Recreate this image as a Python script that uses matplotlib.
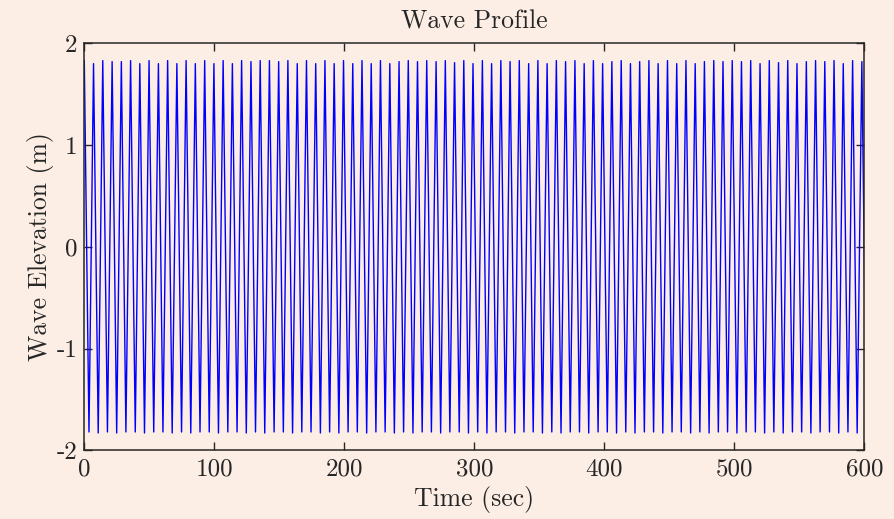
import matplotlib
matplotlib.use("Agg")
import matplotlib.pyplot as plt
import numpy as np

# Crest and trough times (s) and elevations (m)
crest_times = [0.0, 7.1, 14.2, 21.4, 28.5, 35.6, 42.7, 49.8, 57.0, 64.1,
               71.2, 78.3, 85.4, 92.6, 99.7, 106.8, 113.9, 121.0, 128.2, 135.3,
               142.4, 149.5, 156.6, 163.8, 170.9, 178.0, 185.1, 192.2, 199.4, 206.5,
               213.6, 220.7, 227.8, 235.0, 242.1, 249.2, 256.3, 263.4, 270.6, 277.7,
               284.8, 291.9, 299.0, 306.2, 313.3, 320.4, 327.5, 334.6, 341.8, 348.9,
               356.0, 363.1, 370.2, 377.4, 384.5, 391.6, 398.7, 405.8, 413.0, 420.1,
               427.2, 434.3, 441.4, 448.6, 455.7, 462.8, 469.9, 477.0, 484.2, 491.3,
               498.4, 505.5, 512.6, 519.8, 526.9, 534.0, 541.1, 548.2, 555.4, 562.5,
               569.6, 576.7, 583.8, 591.0, 598.1]
crest_elev = [1.83, 1.80, 1.83, 1.82, 1.82, 1.83, 1.80, 1.83, 1.80, 1.83,
              1.80, 1.83, 1.80, 1.83, 1.80, 1.83, 1.80, 1.83, 1.82, 1.83,
              1.83, 1.82, 1.83, 1.80, 1.83, 1.80, 1.83, 1.80, 1.83, 1.80,
              1.83, 1.80, 1.83, 1.80, 1.82, 1.83, 1.82, 1.83, 1.82, 1.83,
              1.81, 1.83, 1.80, 1.83, 1.80, 1.83, 1.82, 1.83, 1.80, 1.83,
              1.80, 1.83, 1.82, 1.83, 1.80, 1.83, 1.80, 1.82, 1.83, 1.80,
              1.82, 1.83, 1.80, 1.83, 1.80, 1.83, 1.80, 1.82, 1.83, 1.82,
              1.83, 1.82, 1.83, 1.80, 1.83, 1.81, 1.83, 1.80, 1.82, 1.83,
              1.82, 1.83, 1.80, 1.83, 1.82]
trough_times = [3.6, 10.7, 17.8, 24.9, 32.0, 39.2, 46.3, 53.4, 60.5, 67.6,
                74.8, 81.9, 89.0, 96.1, 103.2, 110.4, 117.5, 124.6, 131.7, 138.8,
                146.0, 153.1, 160.2, 167.3, 174.4, 181.6, 188.7, 195.8, 202.9, 210.0,
                217.2, 224.3, 231.4, 238.5, 245.6, 252.8, 259.9, 267.0, 274.1, 281.2,
                288.4, 295.5, 302.6, 309.7, 316.8, 324.0, 331.1, 338.2, 345.3, 352.4,
                359.6, 366.7, 373.8, 380.9, 388.0, 395.2, 402.3, 409.4, 416.5, 423.6,
                430.8, 437.9, 445.0, 452.1, 459.2, 466.4, 473.5, 480.6, 487.7, 494.8,
                502.0, 509.1, 516.2, 523.3, 530.4, 537.6, 544.7, 551.8, 558.9, 566.0,
                573.2, 580.3, 587.4, 594.5, 601.6]
trough_elev = [-1.82, -1.83, -1.82, -1.83, -1.82, -1.82, -1.83, -1.82, -1.82, -1.83,
               -1.82, -1.83, -1.82, -1.82, -1.83, -1.82, -1.82, -1.83, -1.82, -1.83,
               -1.82, -1.82, -1.83, -1.82, -1.82, -1.83, -1.82, -1.83, -1.82, -1.82,
               -1.83, -1.82, -1.82, -1.83, -1.82, -1.83, -1.82, -1.82, -1.83, -1.82,
               -1.82, -1.83, -1.82, -1.83, -1.82, -1.82, -1.83, -1.82, -1.82, -1.83,
               -1.82, -1.83, -1.82, -1.82, -1.83, -1.82, -1.82, -1.83, -1.82, -1.83,
               -1.82, -1.82, -1.83, -1.82, -1.82, -1.83, -1.82, -1.83, -1.82, -1.82,
               -1.83, -1.82, -1.82, -1.83, -1.82, -1.83, -1.82, -1.82, -1.83, -1.82,
               -1.82, -1.83, -1.82, -1.83, -1.82]

x_ticks = [0, 100, 200, 300, 400, 500, 600]
x_tick_labels = ["0", "100", "200", "300", "400", "500", "600"]
y_ticks = [-2, -1, 0, 1, 2]
y_tick_labels = ["-2", "-1", "0", "1", "2"]

# interleave crests and troughs into one time series
t = np.empty(len(crest_times) + len(trough_times))
eta = np.empty_like(t)
t[0::2] = crest_times
t[1::2] = trough_times
eta[0::2] = crest_elev
eta[1::2] = trough_elev

plt.rcParams["font.family"] = ["cmr10", "DejaVu Serif"]
plt.rcParams["mathtext.fontset"] = "cm"
plt.rcParams["axes.unicode_minus"] = False

bg = "#FCEEE5"
axc = "#262626"
fig = plt.figure(figsize=(8.94, 5.19), dpi=100, facecolor=bg)
ax = fig.add_axes([0.0943, 0.1324, 0.8725, 0.7842])
ax.set_facecolor(bg)

ax.plot(t, eta, color="#0000FF", lw=1.0)

ax.set_xlim(0, 600)
ax.set_ylim(-2, 2)
ax.set_xticks(x_ticks)
ax.set_xticklabels(x_tick_labels)
ax.set_yticks(y_ticks)
ax.set_yticklabels(y_tick_labels)

for s in ax.spines.values():
    s.set_color(axc)
    s.set_linewidth(1.1)
ax.tick_params(direction="in", length=5.8, width=1.0, color=axc,
               labelcolor=axc, labelsize=18, top=True, right=True)
ax.tick_params(axis="x", pad=6)
ax.tick_params(axis="y", pad=5)

ax.set_title("Wave Profile", fontsize=18.5, color=axc, pad=11)
ax.set_xlabel("Time (sec)", fontsize=18.5, color=axc, labelpad=4)
ax.set_ylabel("Wave Elevation (m)", fontsize=18.5, color=axc, labelpad=2)

fig.savefig("out.png", dpi=100, facecolor=bg)
